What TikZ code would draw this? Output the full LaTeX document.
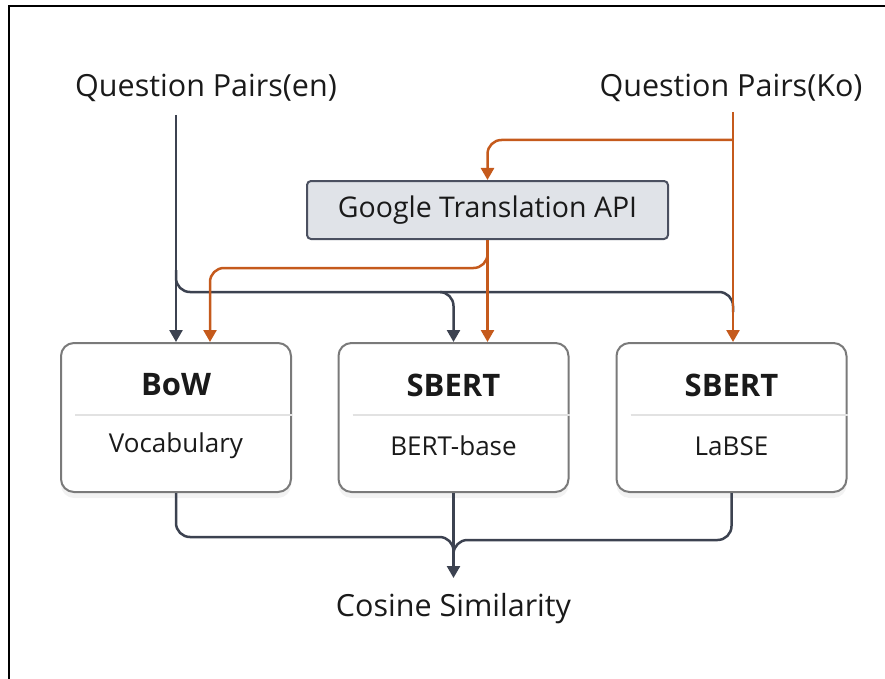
\documentclass[tikz,border=0pt]{standalone}
\usepackage{fontspec}
\setmainfont{Open Sans}
\usetikzlibrary{arrows.meta,shadows}
\definecolor{dk}{HTML}{3C4250}
\definecolor{orng}{HTML}{C55A1C}
\definecolor{bxline}{HTML}{7A7A7A}
\definecolor{gfill}{HTML}{E0E3E8}
\definecolor{gline}{HTML}{4B5060}
\definecolor{sepc}{HTML}{E2E2E2}
\definecolor{txt}{HTML}{1A1A1A}
\begin{document}
\begin{tikzpicture}[x=1pt,y=-1pt,
  dkline/.style={draw=dk, line width=2.5pt},
  orline/.style={draw=orng, line width=2.5pt},
  tip/.style={-{Triangle[width=13pt,length=12pt]}},
  lbl/.style={font=\fontsize{30.5}{36}\selectfont, text=txt, inner sep=0pt},
  ttl/.style={font=\fontsize{31}{36}\selectfont\bfseries, text=txt, inner sep=0pt},
  sub/.style={font=\fontsize{26}{32}\selectfont, text=txt, inner sep=0pt},
  model/.style={draw=bxline, line width=2pt, fill=white, rounded corners=13pt,
    minimum width=230pt, minimum height=149pt,
    drop shadow={opacity=0.10, shadow xshift=0pt, shadow yshift=-6pt}},
  gbox/.style={draw=gline, fill=gfill, line width=2pt, rounded corners=4pt,
    minimum width=361pt, minimum height=58pt, inner sep=0pt,
    font=\fontsize{28.5}{34}\selectfont, text=txt},
  seprule/.style={draw=sepc, line width=1.3pt}
]
\useasboundingbox (0,0) rectangle (885,679);
\draw[line width=2.4pt, black] (9,6) rectangle (900,700);

% labels
\node[lbl] (qen) at (206,88) {Question Pairs(en)};
\node[lbl] (qko) at (731,88) {Question Pairs(Ko)};
\node[gbox] (gt) at (487.5,210) {Google Translation API};

% model boxes
\node[model] (bow) at (176,417.5) {};
\node[model] (mid) at (453.5,417.5) {};
\node[model] (lab) at (731.5,417.5) {};

\node[ttl] (bowt) at (176,385) {BoW};
\node[ttl] (midt) at (453.5,385) {SBERT};
\node[ttl] (labt) at (731.5,385) {SBERT};
\draw[seprule] ([xshift=15pt]bow.west |- 0,415) -- (bow.east |- 0,415);
\draw[seprule] ([xshift=15pt]mid.west |- 0,415) -- (mid.east |- 0,415);
\draw[seprule] ([xshift=15pt]lab.west |- 0,415) -- (lab.east |- 0,415);
\node[sub] (bows) at (176,446) {Vocabulary};
\node[sub] (mids) at (453.5,446) {BERT-base};
\node[sub] (labs) at (731.5,446) {LaBSE};

\node[lbl] (cos) at (453.5,609) {Cosine Similarity};

\coordinate (en0) at (176,115);
\coordinate (ko0) at (733,112);
\coordinate (kobr) at (733,140);
\coordinate (cosin) at (453.5,578);

% dark connectors
\draw[dkline,tip] (en0) -- (bow.north);
\draw[dkline,tip,rounded corners=14pt] (176,270) |- (453.5,292) -- (mid.north);
\draw[dkline,rounded corners=14pt] (440,292) -| (733,312);

% orange connectors
\draw[orline,tip] (ko0) -- (lab.north -| ko0);
\draw[orline,tip,rounded corners=14pt] (kobr) -| (gt.north);
\draw[orline,tip] (gt.south) -- (gt.south |- mid.north);
\draw[orline,tip,rounded corners=14pt] (487.5,250) |- (210,268) -- (bow.north -| 210,0);

% bottom
\draw[dkline,rounded corners=14pt] (bow.south) |- (453.5,537) -- (453.5,568);
\draw[dkline,rounded corners=14pt] (lab.south) |- (453.5,540) -- (453.5,568);
\draw[dkline,tip] (mid.south) -- (cosin);
\end{tikzpicture}
\end{document}
